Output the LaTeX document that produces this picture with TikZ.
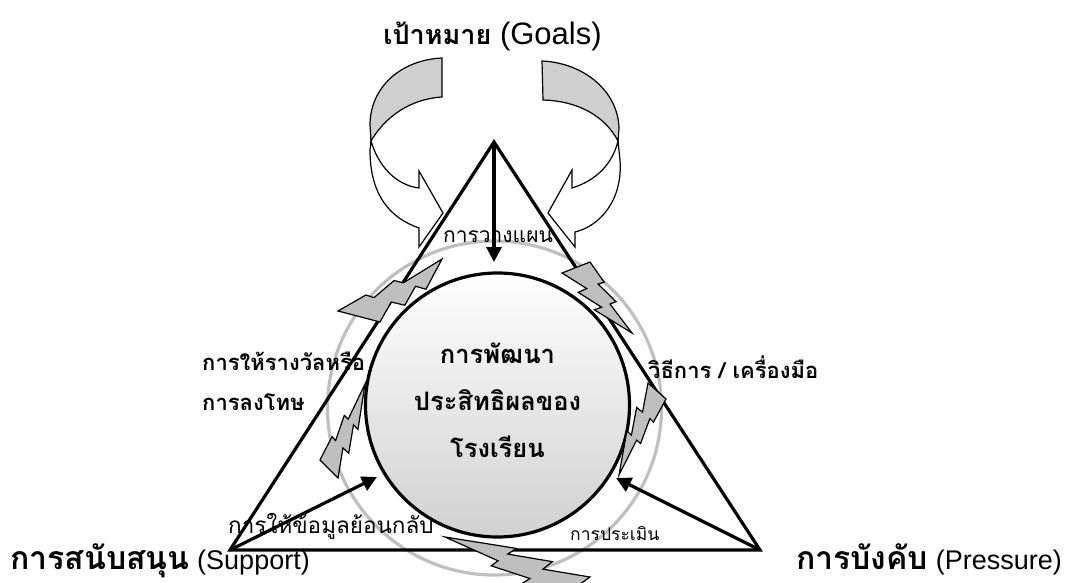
\documentclass[tikz,border=0pt]{standalone}
\usepackage{fontspec}
\setmainfont{Liberation Sans}
\newfontfamily\thai[Script=Thai]{Loma}
\usetikzlibrary{arrows.meta}
\newcommand\mybolt[3]{%
  \coordinate (ba) at #1; \coordinate (bb) at #2; \coordinate (bt) at #3;
  \draw[boltstyle] (bb)
    -- (barycentric cs:ba=-0.0643,bb=0.7712,bt=0.2931)
    -- (barycentric cs:ba=0.1431,bb=0.5680,bt=0.2889)
    -- (barycentric cs:ba=-0.0748,bb=0.5054,bt=0.5694)
    -- (barycentric cs:ba=0.1412,bb=0.2880,bt=0.5708)
    -- (bt)
    -- (barycentric cs:ba=0.6946,bb=-0.2601,bt=0.5655)
    -- (barycentric cs:ba=0.4385,bb=-0.0071,bt=0.5686)
    -- (barycentric cs:ba=0.8628,bb=-0.1568,bt=0.2940)
    -- (barycentric cs:ba=0.5505,bb=0.1605,bt=0.2890)
    -- (ba) -- cycle;}
\newcommand\fs[1]{\fontsize{#1}{#1}\selectfont}
\begin{document}
\begin{tikzpicture}[x=1pt,y=-1pt,
  tri/.style={line width=3.2pt, line join=miter},
  arr/.style={line width=3.2pt, -{Triangle[length=15pt,width=15pt]}},
  backface/.style={draw=black, line width=1.2pt, fill=black!19, line join=miter},
  frontface/.style={draw=black, line width=1.2pt, fill=white, line join=miter},
  boltstyle/.style={draw=black, line width=1.2pt, fill=black!25, line join=miter},
  lbl/.style={inner sep=0pt},
  coretext/.style={font=\thai\bfseries\fs{25.5}, inner sep=0pt, anchor=base},
]
\useasboundingbox (0,0) rectangle (1066,583);

% curved block arrows at the top
\draw[backface] (442,58) .. controls (400,60) and (370,88) .. (370,125) -- (371,141)
  .. controls (385,117) and (410,99) .. (442,97) -- cycle;
\draw[frontface] (371,141) -- (370,150) .. controls (370,195) and (390,218) .. (419,228)
  -- (419,247) -- (443,213) -- (419,171) -- (419,188)
  .. controls (395,185) and (378,165) .. (371,141) -- cycle;
\draw[backface] (542,61) .. controls (585,63) and (618,92) .. (619,128) -- (618,141)
  .. controls (605,116) and (578,101) .. (543,100) -- cycle;
\draw[frontface] (618,141) -- (620,160) .. controls (623,200) and (600,226) .. (575,232)
  -- (575,247) -- (548,213) -- (572,170) -- (572,188)
  .. controls (598,180) and (613,162) .. (618,141) -- cycle;

% circles
\node[circle, draw=black!25, line width=3.2pt, minimum size=334pt, inner sep=0pt] (ring) at (494.5,408) {};
\node[circle, draw=black, line width=3.2pt, top color=white, bottom color=black!18,
      minimum size=264pt, inner sep=0pt] (core) at (497.5,405) {};
\node[coretext] (c1) at (497.5,363) {การพัฒนา};
\node[coretext] (c2) at (497.5,410) {ประสิทธิผลของ};
\node[coretext] (c3) at (497.5,457) {โรงเรียน};

% labels
\node[lbl, font=\thai\fs{21}, anchor=base] (plan) at (498,242) {การวางแผน};
\node[lbl, font=\thai\bfseries\fs{22}, anchor=base west] (rew1) at (202,370) {การให้รางวัลหรือ};
\node[lbl, font=\thai\bfseries\fs{22}, anchor=base west] (rew2) at (202,410) {การลงโทษ};
\node[lbl, font=\thai\bfseries\fs{22}, anchor=base west] (tool) at (648,378) {วิธีการ / เครื่องมือ};
\node[lbl, font=\thai\fs{22.5}, anchor=base west] (feed) at (228,533) {การให้ข้อมูลย้อนกลับ};
\node[lbl, font=\thai\fs{17.5}, anchor=base west] (eval) at (570,540) {การประเมิน};

% triangle and arrows
\coordinate (A) at (494,142);
\coordinate (BL) at (230,550);
\coordinate (BR) at (760,550);
\coordinate (t1) at (494,262);
\coordinate (t2) at (377,477);
\coordinate (t3) at (616,478);
\draw[tri] (A) -- (BL) -- (BR) -- cycle;
\draw[arr] (A) -- (t1);
\draw[arr] (BL) -- (t2);
\draw[arr] (BR) -- (t3);

% lightning bolts
\mybolt{(380,322)}{(338,311)}{(442,259)}
\mybolt{(562,273)}{(590,262)}{(632,333)}
\mybolt{(648,383)}{(666,399)}{(619,475)}
\mybolt{(338,478)}{(320,460)}{(365,384)}
\mybolt{(590,577)}{(558,600)}{(445,537)}

% titles
\node[lbl, anchor=base] (goals) at (492.5,45) {{\thai\bfseries\fs{27}เป้าหมาย}{\fs{31}\ (Goals)}};
\node[lbl, anchor=base west] (supp) at (10,569) {{\thai\bfseries\fs{32}การสนับสนุน}{\fs{27}\ (Support)}};
\node[lbl, anchor=base east] (pres) at (1062,569) {{\thai\bfseries\fs{32}การบังคับ}{\fs{27}\ (Pressure)}};
\end{tikzpicture}
\end{document}
